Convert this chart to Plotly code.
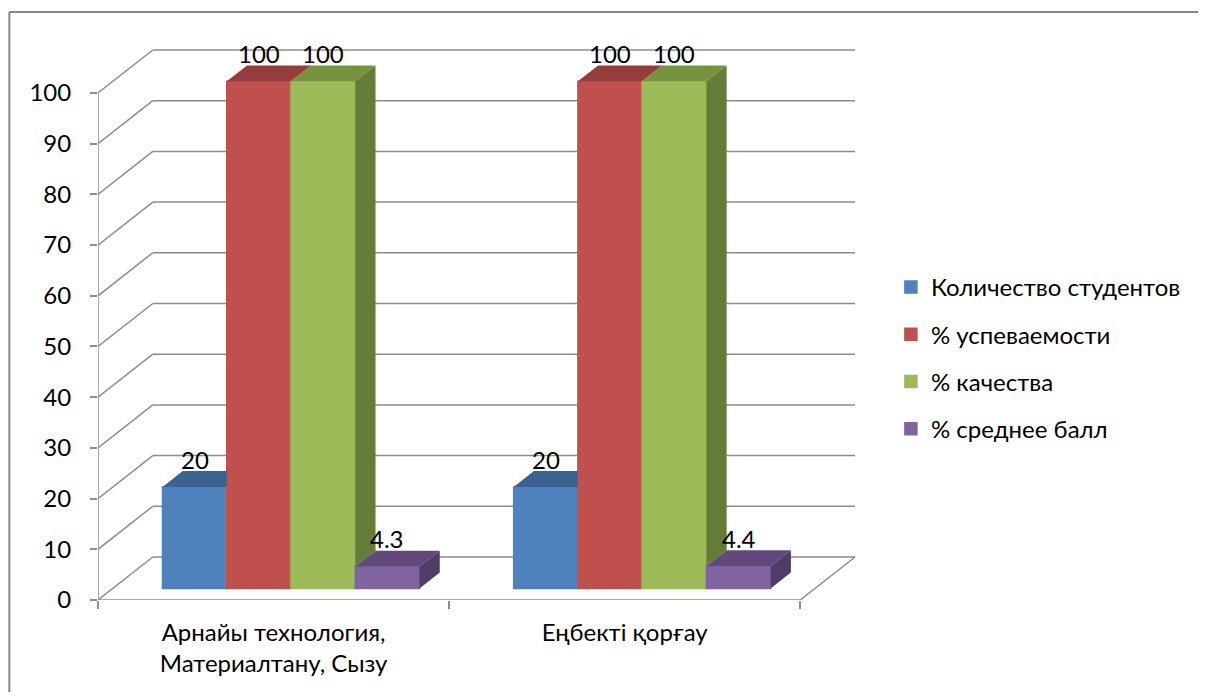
import plotly.graph_objects as go

# ---------------- data ----------------
categories = ["Арнайы технология,<br>Материалтану, Сызу", "Еңбекті қорғау"]
series_names = ["Количество студентов", "% успеваемости", "% качества", "% среднее балл"]
students = [20, 20]
success = [100, 100]
quality = [100, 100]
avg_score = [4.3, 4.4]
value_labels = [["20", "20"], ["100", "100"], ["100", "100"], ["4.3", "4.4"]]
y_ticks = [0, 10, 20, 30, 40, 50, 60, 70, 80, 90, 100]

series_values = [students, success, quality, avg_score]
front_colors = ["#4F81BD", "#C0504D", "#9BBB59", "#8064A2"]
top_colors = ["#3B6391", "#943D3B", "#77933C", "#604A7B"]
side_colors = ["#355884", "#86302E", "#667B38", "#4F3D67"]

# ---------------- geometry (3D look) ----------------
FONT = "Lato"
FS = 24
GRID = "#8C8C8C"
FIG_W, FIG_H = 1190, 684
PX_X = 352.5            # px per category
PX_Y = 5.07             # px per value unit
DX = 55 / PX_X          # full depth shift in x units
DY = 43 / PX_Y          # full depth shift in y units
F0, F1 = 0.27, 0.64     # bar front / back depth fractions
BAR_SHIFT = 17.5 / PX_X
W = 64.5 / PX_X         # bar width in x units
ddx, ddy = (F1 - F0) * DX, (F1 - F0) * DY
base = F0 * DY
L_M, T_M = 90, 14
PLOT_W = 772
Y_MAX = 114
PLOT_H = Y_MAX * PX_Y
B_M = FIG_H - T_M - PLOT_H
X_MAX = PLOT_W / PX_X
Y0_PX = T_M + PLOT_H    # figure pixel of value 0

fig = go.Figure()

ncat = len(categories)
centers = [k + 0.5 + BAR_SHIFT for k in range(ncat)]

# front faces as bars
for i, (name, vals) in enumerate(zip(series_names, series_values)):
    fig.add_trace(go.Bar(
        x=centers, y=vals, base=base, width=W, offset=-2 * W + i * W,
        name=name, legendgroup=name,
        marker=dict(color=front_colors[i], line=dict(color=front_colors[i], width=1.5)),
        hoverinfo="skip",
    ))

# top and side faces
annotations = []
for k in range(ncat):
    for i, vals in enumerate(series_values):
        v = vals[k]
        xl = centers[k] - 2 * W + i * W
        xr = xl + W
        t = base + v
        vn = series_values[i + 1][k] if i + 1 < len(series_values) else 0
        if vn > v:
            px = [xl, xr, xr, xl + ddx, xl]
        else:
            px = [xl, xr, xr + ddx, xl + ddx, xl]
        py = [t, t, t + ddy, t + ddy, t]
        fig.add_trace(go.Scatter(x=px, y=py, fill="toself", mode="lines",
                                 line=dict(width=0, color=top_colors[i]),
                                 fillcolor=top_colors[i], showlegend=False, hoverinfo="skip"))
        if vn < v:
            b = base + vn
            sx = [xr, xr, xr + ddx, xr + ddx, xr]
            sy = [b, t, t + ddy, b + ddy, b]
            fig.add_trace(go.Scatter(x=sx, y=sy, fill="toself", mode="lines",
                                     line=dict(width=0, color=side_colors[i]),
                                     fillcolor=side_colors[i], showlegend=False, hoverinfo="skip"))
        annotations.append(dict(x=xl + W / 2, y=t + ddy, text=value_labels[i][k],
                                showarrow=False, yanchor="middle", yshift=12,
                                font=dict(family=FONT, size=FS, color="black")))

# walls / gridlines as shapes below the traces
shapes = []
for v in y_ticks:
    shapes.append(dict(type="line", layer="below", x0=DX, x1=ncat + DX, y0=v + DY, y1=v + DY,
                       line=dict(color=GRID, width=1.5)))
    shapes.append(dict(type="line", layer="below", x0=0, x1=DX, y0=v, y1=v + DY,
                       line=dict(color=GRID, width=1.5)))
shapes.append(dict(type="line", layer="below", x0=0, x1=0, y0=0, y1=y_ticks[-1],
                   line=dict(color=GRID, width=1.5)))
shapes.append(dict(type="line", layer="below", x0=0, x1=ncat, y0=0, y1=0,
                   line=dict(color=GRID, width=1.5)))
shapes.append(dict(type="line", layer="below", x0=ncat, x1=ncat + DX, y0=0, y1=DY,
                   line=dict(color=GRID, width=1.5)))
# outer chart border (left and top edges visible)
bx = (1 - L_M) / PLOT_W
by = (Y0_PX - 4) / PLOT_H
shapes.append(dict(type="line", xref="paper", yref="paper", x0=bx, x1=bx, y0=by, y1=-1,
                   line=dict(color="#868686", width=2)))
shapes.append(dict(type="line", xref="paper", yref="paper", x0=bx, x1=3, y0=by, y1=by,
                   line=dict(color="#868686", width=2)))

fig.update_layout(
    width=FIG_W, height=FIG_H,
    margin=dict(l=L_M, r=FIG_W - L_M - PLOT_W, t=T_M, b=B_M),
    paper_bgcolor="white", plot_bgcolor="white",
    barmode="overlay",
    font=dict(family=FONT, size=FS, color="black"),
    shapes=shapes, annotations=annotations,
    showlegend=True,
    legend=dict(x=(886 - L_M) / PLOT_W, xanchor="left",
                y=(Y0_PX - 350) / PLOT_H, yanchor="middle",
                font=dict(family=FONT, size=FS, color="black"),
                tracegroupgap=13, itemwidth=30, traceorder="grouped",
                bgcolor="rgba(0,0,0,0)"),
    xaxis=dict(range=[0, X_MAX], tickmode="array", tickvals=[0.5, 1.5],
               ticktext=categories, ticks="", showgrid=False, zeroline=False,
               showline=False, ticklabelstandoff=16, fixedrange=True,
               minor=dict(tickmode="array", tickvals=[0, 1, 2], ticks="outside",
                          ticklen=8, tickwidth=1.5, tickcolor=GRID, showgrid=False)),
    yaxis=dict(range=[0, Y_MAX], tickmode="array", tickvals=y_ticks,
               ticks="outside", ticklen=7, tickwidth=1.5, tickcolor=GRID,
               showgrid=False, zeroline=False, showline=False,
               ticklabelstandoff=14, fixedrange=True),
)

fig.write_html("out.html")
